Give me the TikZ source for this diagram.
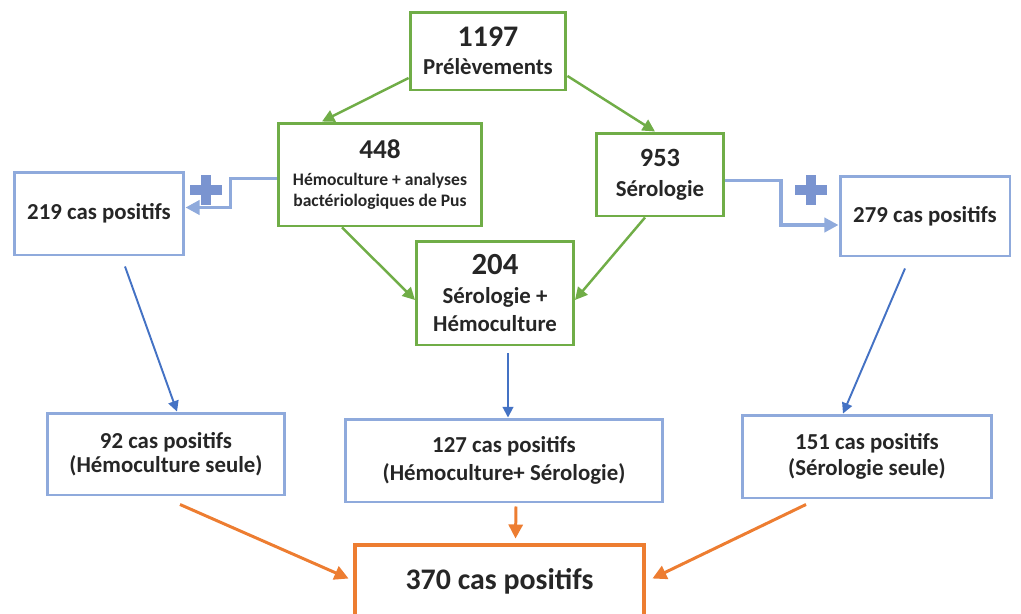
\documentclass[tikz,border=0pt]{standalone}
\usepackage{fontspec}
\setmainfont{Carlito}
\usepackage{xcolor}
\definecolor{msgreen}{RGB}{112,173,71}
\definecolor{msblue}{RGB}{143,170,220}
\definecolor{msdblue}{RGB}{68,114,196}
\definecolor{msplus}{RGB}{122,148,208}
\definecolor{msorange}{RGB}{237,125,49}
\definecolor{mstext}{RGB}{38,38,38}
\usepackage{tikz}
\usetikzlibrary{arrows.meta, calc}

\newcommand{\bignum}[2]{{\fontsize{#1}{#1}\selectfont #2}}

\tikzset{
  basebox/.style={line width=1.7pt, align=center, text=mstext, inner sep=2pt,
    font=\fontsize{13}{15}\selectfont\bfseries},
  grnbox/.style={basebox, draw=msgreen},
  bluebox/.style={basebox, draw=msblue},
  orbox/.style={basebox, draw=msorange, line width=2.8pt},
  grnarrow/.style={draw=msgreen, line width=1.4pt, -{Triangle[length=7pt, width=7pt]}},
  bluearrow/.style={draw=msdblue, line width=1.1pt, -{Triangle[length=6pt, width=6pt]}},
  orarrow/.style={draw=msorange, line width=1.7pt, -{Triangle[length=8pt, width=8pt]}},
  elbow/.style={draw=msblue, line width=2pt, -{Triangle[length=8pt, width=8pt]}},
  plussign/.style={draw=msplus, line width=5.5pt}
}

\begin{document}
\begin{tikzpicture}[x=0.02cm, y=-0.02cm]
  \useasboundingbox (0,0) rectangle (1021,613);

  % green part
  \node[grnbox, minimum width=3.12cm, minimum height=1.56cm] (pre) at (488,51)
    {\bignum{17}{1197}\\[1pt] Prélèvements};
  \node[grnbox, minimum width=4.08cm, minimum height=2.06cm,
    font=\fontsize{10}{11.5}\selectfont\bfseries] (hemo) at (380,174.5)
    {\bignum{15.5}{448}\\[4pt] Hémoculture + analyses\\ bactériologiques de Pus};
  \node[grnbox, minimum width=2.54cm, minimum height=1.66cm] (sero) at (660,174.5)
    {\bignum{15}{953}\\[2pt] Sérologie};
  \node[grnbox, minimum width=3.14cm, minimum height=2.08cm,
    font=\fontsize{13}{16}\selectfont\bfseries] (both) at (495,293)
    {\bignum{17.5}{204}\\ Sérologie +\\ Hémoculture};

  \draw[grnarrow] ($(pre.west)+(0,27)$) -- ($(hemo.north)+(-58,0)$);
  \draw[grnarrow] ($(pre.east)+(0,25)$) -- ($(sero.north)+(-5,0)$);
  \draw[grnarrow] ($(hemo.south)+(-38,0)$) -- ($(both.west)+(0,7)$);
  \draw[grnarrow] ($(sero.south)+(-15,0)$) -- ($(both.east)+(0,7)$);

  % blue part
  \node[bluebox, minimum width=3.4cm, minimum height=1.66cm] (pos219) at (99,213.5)
    {219 cas positifs};
  \node[bluebox, minimum width=3.4cm, minimum height=1.6cm] (pos279) at (925,216)
    {279 cas positifs};
  \node[bluebox, minimum width=4.76cm, minimum height=1.64cm,
    font=\fontsize{13}{13.6}\selectfont\bfseries] (pos92) at (166,454)
    {92 cas positifs\\ (Hémoculture seule)};
  \node[bluebox, minimum width=6.36cm, minimum height=1.66cm,
    font=\fontsize{13}{16}\selectfont\bfseries] (pos127) at (504,460.5)
    {127 cas positifs\\ (Hémoculture+ Sérologie)};
  \node[bluebox, minimum width=5cm, minimum height=1.66cm,
    font=\fontsize{13}{14.6}\selectfont\bfseries] (pos151) at (867,456.5)
    {151 cas positifs\\ (Sérologie seule)};

  \draw[elbow] ($(hemo.west)+(0,4)$) -- ++(-46,0) |- ($(pos219.east)+(0,-6)$);
  \draw[elbow] ($(sero.east)+(0,6)$) -- ++(56,0) |- ($(pos279.west)+(0,9)$);
  \draw[plussign] (206,190) +(-16,0) -- +(16,0) (206,190) +(0,-15) -- +(0,15);
  \draw[plussign] (811,190) +(-16,0) -- +(16,0) (811,190) +(0,-15) -- +(0,15);

  \draw[bluearrow] ($(pos219.south)+(26,10)$) -- ($(pos92.north)+(11,0)$);
  \draw[bluearrow] ($(both.south)+(13,7)$) -- ($(pos127.north)+(4,0)$);
  \draw[bluearrow] ($(pos279.south)+(-20,11)$) -- ($(pos151.north)+(-24,0)$);

  % orange part
  \node[orbox, minimum width=5.78cm, minimum height=1.46cm,
    font=\fontsize{17}{20}\selectfont\bfseries] (tot370) at (499.5,581.5)
    {370 cas positifs};

  \draw[orarrow] ($(pos92.south)+(14,8)$) -- ($(tot370.west)+(-4,-3)$);
  \draw[orarrow] ($(pos127.south)+(12,3)$) -- ($(tot370.north)+(16,-4)$);
  \draw[orarrow] ($(pos151.south)+(-61,5)$) -- ($(tot370.east)+(6,-3)$);
\end{tikzpicture}
\end{document}
